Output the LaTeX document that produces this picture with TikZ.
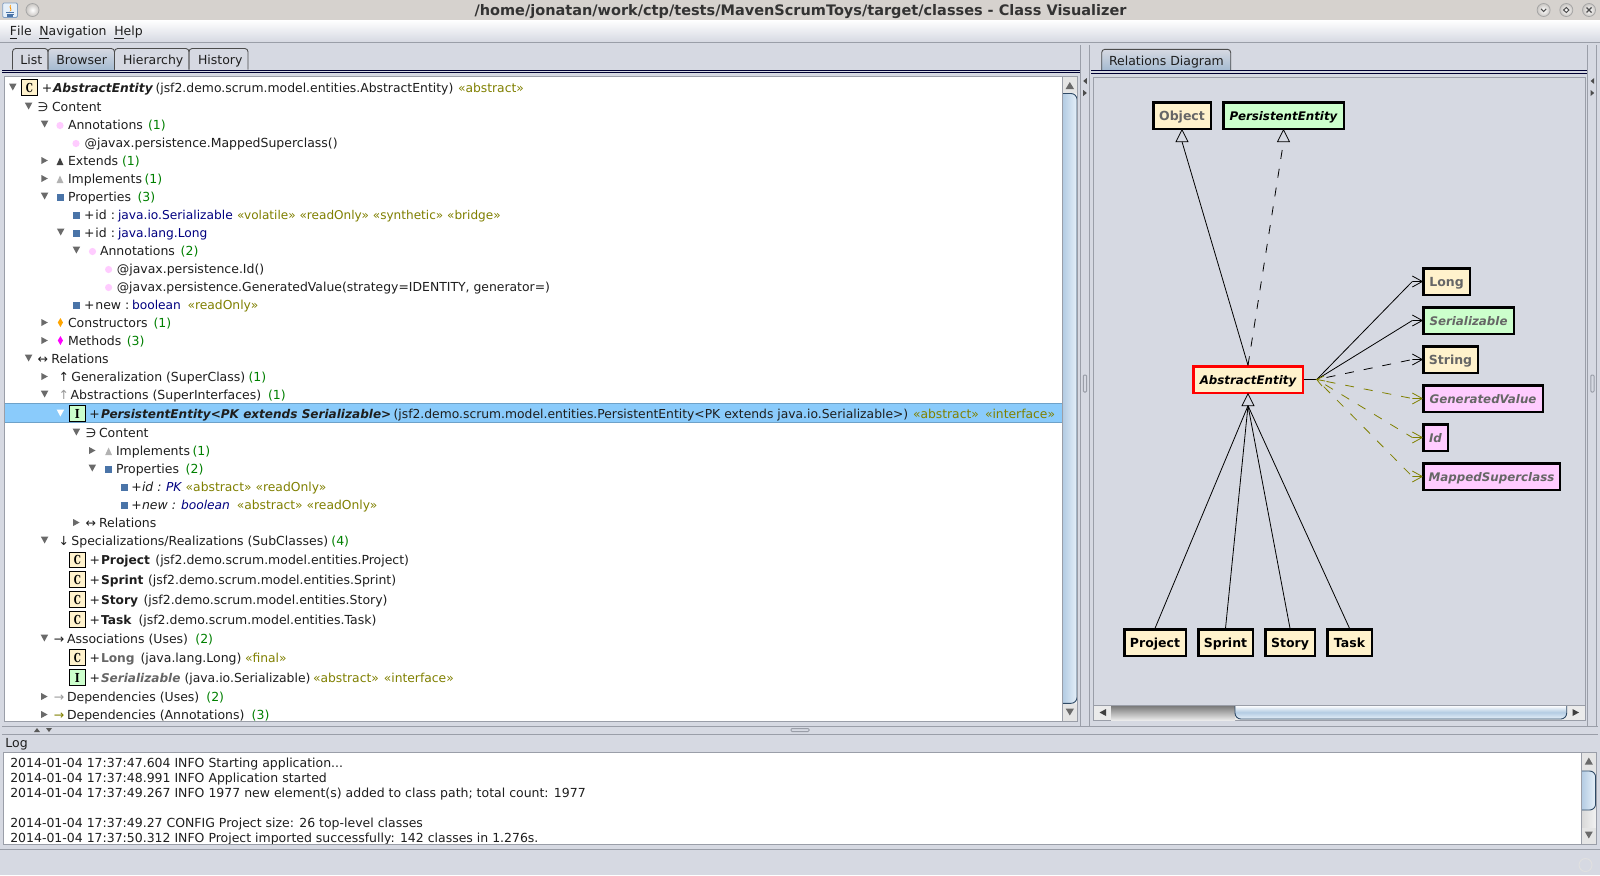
\documentclass[tikz,border=0pt]{standalone}
\usepackage{fontspec}
\usepackage{graphicx}
\setmainfont{DejaVu Sans}
\newfontfamily\iconfont{DejaVu Serif}
\usetikzlibrary{arrows.meta,calc}
\definecolor{bgc}{HTML}{D6D9E2}
\definecolor{titlec}{HTML}{D6D2CE}
\definecolor{edgec}{HTML}{9A9EA8}
\definecolor{cgreen}{HTML}{008000}
\definecolor{colive}{HTML}{808000}
\definecolor{cnavy}{HTML}{000080}
\definecolor{cream}{HTML}{FFF2CC}
\definecolor{mint}{HTML}{CCFFCC}
\definecolor{pinkc}{HTML}{FFCCFF}
\definecolor{selc}{HTML}{8ACBFB}
\definecolor{txt}{HTML}{1E1E1E}
\definecolor{graytxt}{HTML}{666666}
\definecolor{sqc}{HTML}{4A74A8}
\definecolor{expc}{HTML}{6A6A6A}
\definecolor{thumba}{HTML}{B4CCE3}
\definecolor{thumbb}{HTML}{E6F0F9}
\definecolor{thumbe}{HTML}{2F4A66}
\definecolor{tabb}{HTML}{A5BBD1}
\definecolor{cmag}{HTML}{FF00FF}
\definecolor{corg}{HTML}{FFA500}
\newcount\tnum
\newcommand{\uifont}{\fontsize{6.24}{7}\selectfont}
\newcommand{\dfont}{\fontsize{6.25}{7}\selectfont\bfseries}
\newcommand{\dfonti}{\fontsize{5.92}{7}\selectfont\bfseries\itshape}
\tikzset{
  tt/.style={anchor=base west,inner sep=0pt,outer sep=0pt,text=txt,font=\uifont},
  grn/.style={text=cgreen},
  olv/.style={text=colive,font=\fontsize{6.16}{7}\selectfont},
  nav/.style={text=cnavy,font=\fontsize{6.12}{7}\selectfont},
  gry/.style={text=graytxt},
  bitf/.style={font=\fontsize{6.12}{7}\selectfont\bfseries\itshape},
  bits/.style={font=\fontsize{6.03}{7}\selectfont\bfseries\itshape},
  bf/.style={font=\fontsize{6.12}{7}\selectfont\bfseries},
  itf/.style={font=\uifont\itshape},
  itn/.style={text=cnavy,font=\fontsize{6.12}{7}\selectfont\itshape},
  pth/.style={font=\fontsize{6.2}{7}\selectfont},
  pthl/.style={font=\fontsize{6.17}{7}\selectfont},
  olvs/.style={text=colive,font=\fontsize{6.04}{7}\selectfont},
  edgeline/.style={draw=edgec,line width=0.5pt},
  wbtn/.style={draw=gray!70,line width=0.4pt,inner color=white,outer color=titlec!85!gray},
  cbox/.style={draw=black,fill=cream,line width=0.5pt,minimum width=7.6pt,minimum height=7.6pt,inner sep=0pt,font=\iconfont\fontsize{6.2}{7}\selectfont\bfseries},
  ibox/.style={cbox,fill=mint},
  umlbox/.style={draw=black,line width=1.1pt,inner sep=0pt,text=black,font=\dfont,text height=6pt,text depth=1pt},
  conn/.style={draw=black,line width=0.4pt},
  dep/.style={draw=black,line width=0.4pt,dash pattern=on 4.5pt off 5pt,dash phase=4.5pt},
  dann/.style={draw=colive,line width=0.4pt,dash pattern=on 4.5pt off 5pt,dash phase=4.5pt},
  tabtop/.style={draw=black!70,line width=0.45pt,rounded corners=1.6pt},
  thumbl/.style={draw=thumbe,line width=0.45pt},
}
\newcommand{\tx}[4][]{\global\advance\tnum by 1\node[tt,#1] (t\the\tnum) at (#2,{#3+4.5}) {#4};}
\newcommand{\mydn}[3][expc]{\fill[#1] ({#2-3.8},{#3-3.5}) -- ({#2+3.8},{#3-3.5}) -- (#2,{#3+3.5}) -- cycle;}
\newcommand{\myrt}[2]{\fill[expc] ({#1-3.2},{#2-3.5}) -- ({#1+3.2},#2) -- ({#1-3.2},{#2+3.5}) -- cycle;}
\newcommand{\pdot}[2]{\fill[pinkc] (#1,{#2+1}) circle[radius=3.6];}
\newcommand{\icsq}[2]{\fill[sqc] ({#1-3.6},{#2-2.8}) rectangle ({#1+3.6},{#2+4.4});}
\newcommand{\ictri}[3]{\fill[#1] ({#2-3.4},{#3+4.5}) -- ({#2+3.4},{#3+4.5}) -- (#2,{#3-3}) -- cycle;}
\newcommand{\icdia}[3]{\fill[#1] ({#2},{#3-4.5}) -- ({#2+2.6},#3) -- (#2,{#3+4.5}) -- ({#2-2.6},#3) -- cycle;}
\newcommand{\clsbox}[3]{\global\advance\tnum by 1\node[cbox] (t\the\tnum) at (#1,#2) {\scalebox{0.72}[1]{#3}};}
\newcommand{\intbox}[3]{\global\advance\tnum by 1\node[ibox] (t\the\tnum) at (#1,#2) {\scalebox{0.85}[1]{#3}};}
\newcommand{\uml}[8]{\node[umlbox,fill=#1,#7,minimum width={(#4-#3-2.2)*0.5pt},minimum height={(#6-#5-2.2)*0.5pt}] (#2) at ({(#3+#4)/2},{(#5+#6)/2}) {#8};}
\newcommand{\openhead}[2]{\draw[draw=#1,line width=0.4pt] (#2.west) -- ++(-10,-5.5) (#2.west) -- ++(-10,5.5) (#2.west) -- ++(-10,0);}
\newcommand{\upgen}[1]{\draw[conn,fill=bgc] (#1.south) -- ++(-6,12) -- ++(12,0) -- cycle;}
\begin{document}
\begin{tikzpicture}[x=0.5pt,y=-0.5pt]
\useasboundingbox (0,0) rectangle (1600,875);
\fill[bgc] (0,0) rectangle (1600,875);
% title bar
\fill[titlec] (0,0) rectangle (1600,20);
\shade[top color=white,bottom color=bgc] (0,20) rectangle (1600,42);
\draw[edgeline] (0,42.5) -- (1600,42.5);
\node[tt,text=black!80,font=\fontsize{7.25}{8}\selectfont\bfseries] (title) at (474.5,15) {/home/jonatan/work/ctp/tests/MavenScrumToys/target/classes - Class Visualizer};
% java icon
\draw[draw=sqc!70,fill=thumbb,rounded corners=0.6pt,line width=0.4pt] (2.7,3) rectangle (17.5,17.5);
\fill[corg!90!red] (11,4.5) .. controls (7,8) and (13,9) .. (9.5,11.5) .. controls (14,10) and (9,8) .. (11,4.5);
\draw[sqc,line width=0.6pt] (6,12.5) -- (14,12.5) (6.5,14.3) -- (13.5,14.3) (7,16) -- (13,16);
\draw[wbtn] (32.5,10) circle[radius=6.5];
\draw[wbtn] (1543.6,10) circle[radius=6.5];
\draw[wbtn] (1566.3,10) circle[radius=6.5];
\draw[wbtn] (1589,10) circle[radius=6.5];
\draw[black!70,line width=0.5pt] (1541,8.8) -- (1543.6,11.6) -- (1546.2,8.8);
\draw[black!70,line width=0.5pt] (1566.3,7.5) -- (1569,10) -- (1566.3,12.5) -- (1563.6,10) -- cycle;
\draw[black!70,line width=0.6pt] (1586.5,7.5) -- (1591.5,12.5) (1591.5,7.5) -- (1586.5,12.5);
% menu
\tx{10}{30.7}{\underline{F}ile}
\tx{39.3}{30.7}{\underline{N}avigation}
\tx{114.3}{30.7}{\underline{H}elp}
% tabs
\shade[top color=bgc,bottom color=tabb] (48,48.5) rectangle (114,69.5);
\draw[tabtop] (12.5,69.5) |- (48,48.5) -- (48,69.5);
\draw[tabtop] (48,69.5) |- (114.5,48.5) -- (114.5,69.5);
\draw[tabtop] (114.5,69.5) |- (189,48.5) -- (189,69.5);
\draw[tabtop] (189,69.5) |- (248,48.5) -- (248,69.5);
\tx{20.4}{60.2}{List}
\tx{56.4}{60.2}{Browser}
\tx{123}{60.2}{Hierarchy}
\tx{198}{60.2}{History}
\draw[black!80!blue,line width=0.5pt] (2,70) -- (1080,70);
\draw[black!80!blue,line width=0.5pt] (2,72.8) -- (1080,72.8);
% splitters
\draw[edgeline] (1080.4,45) -- (1080.4,726) (1089,45) -- (1089,726) (1587.5,45) -- (1587.5,726) (1596.6,45) -- (1596.6,726);
\foreach \sx/\sg in {1085/1,1592.4/1}{
  \fill[black!70] ({\sx+1.8},78) -- ({\sx+1.8},84) -- ({\sx-1.8},81) -- cycle;
  \fill[black!70] ({\sx-1.8},90) -- ({\sx-1.8},96) -- ({\sx+1.8},93) -- cycle;
  \draw[edgeline,rounded corners=0.5pt] ({\sx-1.6},375) rectangle ({\sx+1.6},392);
}
% tree panel
\fill[white] (4.3,76.5) rectangle (1062,721);
\fill[selc] (5,403) rectangle (1062,422.5);
\draw[selc!80!black,line width=0.4pt] (5,403) -- (1062,403) (5,422.5) -- (1062,422.5);
% tree rows
\mydn{12.8}{87}
\clsbox{29.5}{87.5}{C}
\tx{41.8}{87.5}{+}
\tx[bitf]{53}{87.5}{AbstractEntity}
\tx[pth]{155.5}{87.5}{(jsf2.demo.scrum.model.entities.AbstractEntity)}
\tx[olv]{458}{87.5}{«abstract»}
\mydn{28.6}{106}
\tx{37.5}{106.5}{∋}
\tx{52}{106.5}{Content}
\mydn{44.6}{124}
\pdot{60}{124.5}
\tx{68}{124.5}{Annotations}
\tx[grn]{148}{124.5}{(1)}
\pdot{76}{142.5}
\tx{84.6}{142.5}{@javax.persistence.MappedSuperclass()}
\myrt{44.6}{160.5}
\ictri{black!75}{60}{160.5}
\tx{68}{160.5}{Extends}
\tx[grn]{122}{160.5}{(1)}
\myrt{44.6}{178.5}
\ictri{black!30}{60}{178.5}
\tx{68}{178.5}{Implements}
\tx[grn]{144.5}{178.5}{(1)}
\mydn{44.6}{196}
\icsq{60.4}{196.5}
\tx{68}{196.5}{Properties}
\tx[grn]{137.5}{196.5}{(3)}
\icsq{76.4}{214.5}
\tx{84}{214.5}{+}
\tx{95.4}{214.5}{id :}
\tx[nav]{118}{214.5}{java.io.Serializable}
\tx[olvs]{237}{214.5}{«volatile» «readOnly» «synthetic» «bridge»}
\mydn{60.7}{232}
\icsq{76.4}{232.5}
\tx{84}{232.5}{+}
\tx{95.4}{232.5}{id :}
\tx[nav]{118}{232.5}{java.lang.Long}
\mydn{76.4}{250}
\pdot{92.5}{250.5}
\tx{100}{250.5}{Annotations}
\tx[grn]{180.7}{250.5}{(2)}
\pdot{108.6}{268.5}
\tx{116.8}{268.5}{@javax.persistence.Id()}
\pdot{108.6}{286.5}
\tx[pth]{116.8}{286.5}{@javax.persistence.GeneratedValue(strategy=IDENTITY, generator=)}
\icsq{76.4}{305}
\tx{84}{305}{+}
\tx{95.4}{305}{new :}
\tx[nav]{132}{305}{boolean}
\tx[olv]{187.5}{305}{«readOnly»}
\myrt{44.6}{322.5}
\icdia{corg}{60.4}{322.5}
\tx{68}{322.5}{Constructors}
\tx[grn]{153.6}{322.5}{(1)}
\myrt{44.6}{340.5}
\icdia{cmag}{60.4}{340.5}
\tx{68}{340.5}{Methods}
\tx[grn]{126.8}{340.5}{(3)}
\mydn{28.6}{358}
\tx{37.5}{358.5}{↔}
\tx{51.4}{358.5}{Relations}
\myrt{44.6}{376.5}
\tx{58.5}{376.5}{↑}
\tx{71.4}{376.5}{Generalization (SuperClass)}
\tx[grn]{248.5}{376.5}{(1)}
\mydn{44.6}{394}
\tx[text=black!40]{58.5}{394.5}{↑}
\tx{70.7}{394.5}{Abstractions (SuperInterfaces)}
\tx[grn]{268}{394.5}{(1)}
\mydn[white]{60.4}{413}
\intbox{77.4}{413.5}{I}
\tx{89.3}{413.5}{+}
\tx[bits]{101}{413.5}{PersistentEntity<PK extends Serializable>}
\tx[pthl]{393.6}{413.5}{(jsf2.demo.scrum.model.entities.PersistentEntity<PK extends java.io.Serializable>)}
\tx[olv]{913}{413.5}{«abstract»}
\tx[olv]{985}{413.5}{«interface»}
\mydn{76.4}{432}
\tx{85.5}{432.5}{∋}
\tx{99}{432.5}{Content}
\myrt{92.3}{450.5}
\ictri{black!30}{108.6}{450.5}
\tx{116}{450.5}{Implements}
\tx[grn]{192.5}{450.5}{(1)}
\mydn{92.3}{468}
\icsq{108.6}{468.5}
\tx{116}{468.5}{Properties}
\tx[grn]{185.7}{468.5}{(2)}
\icsq{124.3}{486.5}
\tx{131.4}{486.5}{+}
\tx[itf]{142}{486.5}{id :}
\tx[itn]{166}{486.5}{PK}
\tx[olv]{185.7}{486.5}{«abstract» «readOnly»}
\icsq{124.3}{504.5}
\tx{131.4}{504.5}{+}
\tx[itf]{142}{504.5}{new :}
\tx[itn]{181}{504.5}{boolean}
\tx[olv]{236.8}{504.5}{«abstract» «readOnly»}
\myrt{76.4}{522.5}
\tx{85.5}{522.5}{↔}
\tx{99}{522.5}{Relations}
\mydn{44.6}{540}
\tx{58.5}{540.5}{↓}
\tx{71.4}{540.5}{Specializations/Realizations (SubClasses)}
\tx[grn]{331.4}{540.5}{(4)}
\clsbox{77.4}{560}{C}
\tx{89.5}{559.5}{+}
\tx[bf]{101}{559.5}{Project}
\tx{155.4}{559.5}{(jsf2.demo.scrum.model.entities.Project)}
\clsbox{77.4}{579.5}{C}
\tx{89.5}{579.5}{+}
\tx[bf]{101}{579.5}{Sprint}
\tx{148}{579.5}{(jsf2.demo.scrum.model.entities.Sprint)}
\clsbox{77.4}{599.5}{C}
\tx{89.5}{599.5}{+}
\tx[bf]{101}{599.5}{Story}
\tx{143.6}{599.5}{(jsf2.demo.scrum.model.entities.Story)}
\clsbox{77.4}{619.5}{C}
\tx{89.5}{619.5}{+}
\tx[bf]{101}{619.5}{Task}
\tx{138.5}{619.5}{(jsf2.demo.scrum.model.entities.Task)}
\mydn{44.4}{638}
\tx{54}{638.5}{→}
\tx{67}{638.5}{Associations (Uses)}
\tx[grn]{195.4}{638.5}{(2)}
\clsbox{77.4}{657.5}{C}
\tx{89.5}{657.5}{+}
\tx[bf,gry]{101}{657.5}{Long}
\tx{140.5}{657.5}{(java.lang.Long)}
\tx[olv]{245}{657.5}{«final»}
\intbox{77.4}{677.5}{I}
\tx{89.5}{677.5}{+}
\tx[bits,gry]{101}{677.5}{Serializable}
\tx[pth]{184.5}{677.5}{(java.io.Serializable)}
\tx[olv]{313}{677.5}{«abstract»}
\tx[olv]{383.8}{677.5}{«interface»}
\myrt{44.4}{696.5}
\tx[text=black!40]{54}{696.5}{→}
\tx{67}{696.5}{Dependencies (Uses)}
\tx[grn]{206.4}{696.5}{(2)}
\myrt{44.4}{714.5}
\tx[text=colive]{54}{714.5}{→}
\tx{67}{714.5}{Dependencies (Annotations)}
\tx[grn]{251.7}{714.5}{(3)}
% tree scrollbar
\fill[black!10] (1062,76.5) rectangle (1077.7,721);
\shade[left color=black!15,right color=black!5] (1062,93) rectangle (1077.7,703);
\fill[expc] (1069.8,82) -- (1074,89) -- (1065.6,89) -- cycle;
\fill[expc] (1069.8,715.5) -- (1074,708.5) -- (1065.6,708.5) -- cycle;
\shade[thumbl,left color=thumba,right color=thumbb,rounded corners=3pt] (1063,93.5) -- (1077,93.5) -- (1077,703.3) -- (1063,703.3);
\draw[edgeline] (4.3,76.5) rectangle (1077.7,721);
\draw[edgeline] (1062,76.5) -- (1062,721);
% relations tab
\shade[top color=bgc,bottom color=tabb] (1101.7,49.5) rectangle (1230.7,70);
\draw[tabtop] (1101.7,70) |- (1230.7,49.3) -- (1230.7,70);
\tx{1109}{60.7}{Relations Diagram}
\draw[black!80!blue,line width=0.5pt] (1091,70.5) -- (1586.7,70.5);
\draw[black!80!blue,line width=0.5pt] (1091,73) -- (1586.7,73);
% diagram frame
\draw[edgeline] (1093.3,77.3) rectangle (1585,720.7);
% UML nodes
\uml{cream}{Object}{1152.3}{1211.7}{101.3}{129.7}{text=graytxt}{Object}
\uml{mint}{PersistentEntity}{1222.3}{1344.7}{101.3}{129.7}{font=\dfonti}{PersistentEntity}
\node[umlbox,fill=cream,draw=red,font=\dfonti,minimum width={(111.4-2.2)*0.5pt},minimum height={(28.4-2.2)*0.5pt}] (AbstractEntity) at (1248,379.5) {AbstractEntity};
\uml{cream}{Long}{1422.3}{1470.7}{267.3}{295.7}{text=graytxt}{Long}
\uml{mint}{Serializable}{1422.3}{1514.7}{306.3}{334.7}{text=graytxt,font=\dfonti}{Serializable}
\uml{cream}{String}{1422.3}{1478.7}{345.3}{373.7}{text=graytxt}{String}
\uml{pinkc}{GeneratedValue}{1422.3}{1543.7}{384.3}{412.7}{text=graytxt,font=\dfonti}{GeneratedValue}
\uml{pinkc}{Id}{1422.3}{1448.7}{423.3}{451.7}{text=graytxt,font=\dfonti}{Id}
\uml{pinkc}{MappedSuperclass}{1422.3}{1560.7}{462.3}{490.7}{text=graytxt,font=\dfonti}{MappedSuperclass}
\uml{cream}{Project}{1123.3}{1186.7}{628.3}{656.7}{}{Project}
\uml{cream}{Sprint}{1197.3}{1253.7}{628.3}{656.7}{}{Sprint}
\uml{cream}{Story}{1264.3}{1315.7}{628.3}{656.7}{}{Story}
\uml{cream}{Task}{1326.3}{1372.7}{628.3}{656.7}{}{Task}
\coordinate (jn) at (1316.7,379.5);
% connectors
\draw[conn] (AbstractEntity.north) -- ([yshift=-6pt]Object.south);
\upgen{Object}
\draw[conn,dash pattern=on 4.5pt off 5pt] (AbstractEntity.north) -- ([yshift=-6pt]PersistentEntity.south);
\upgen{PersistentEntity}
\upgen{AbstractEntity}
\draw[conn] ([yshift=-6pt]AbstractEntity.south) -- (Project.north);
\draw[conn] ([yshift=-6pt]AbstractEntity.south) -- (Sprint.north);
\draw[conn] ([yshift=-6pt]AbstractEntity.south) -- (Story.north);
\draw[conn] ([yshift=-6pt]AbstractEntity.south) -- (Task.north);
\draw[conn] (AbstractEntity.east) -- (jn);
\draw[conn] (jn) -- ([xshift=-5pt]Long.west);
\draw[conn] (jn) -- ([xshift=-5pt]Serializable.west);
\draw[dep] (jn) -- ([xshift=-5pt]String.west);
\draw[dann] (jn) -- ([xshift=-5pt]GeneratedValue.west);
\draw[dann] (jn) -- ([xshift=-5pt]Id.west);
\draw[dann] (jn) -- ([xshift=-5pt]MappedSuperclass.west);
\openhead{black}{Long}
\openhead{black}{Serializable}
\openhead{black}{String}
\openhead{colive}{GeneratedValue}
\openhead{colive}{Id}
\openhead{colive}{MappedSuperclass}
\draw[colive,line width=0.4pt] (1324,376) -- (jn) -- (1325,381) (jn) -- (1322,386);
% diagram hscroll
\fill[black!8] (1094,705) rectangle (1584.5,720);
\shade[top color=black!55,bottom color=black!8] (1111,705) rectangle (1235,720);
\fill[black!75] (1106,709) -- (1106,716) -- (1099.5,712.5) -- cycle;
\fill[black!75] (1572.5,709) -- (1572.5,716) -- (1579,712.5) -- cycle;
\shade[thumbl,top color=white,bottom color=thumbb,middle color=thumba,rounded corners=3pt] (1235,705.5) -- (1235,719) -- (1566.7,719) -- (1566.7,705.5);
\draw[edgeline] (1093.3,705) -- (1585,705);
% horizontal splitter
\draw[edgeline] (2,726) -- (1598,726);
\draw[edgeline] (2,734.2) -- (1598,734.2);
\fill[black!65] (37,728) -- (40,732) -- (34,732) -- cycle;
\fill[black!65] (46,728) -- (52,728) -- (49,732) -- cycle;
\draw[edgeline,rounded corners=0.5pt] (791,728.5) rectangle (809,731.5);
% log
\tx{5.4}{743}{Log}
\fill[white] (3.4,752.7) rectangle (1596,844);
\tx{10.3}{762.7}{2014-01-04 17:37:47.604 INFO Starting application...}
\tx{10.3}{777.7}{2014-01-04 17:37:48.991 INFO Application started}
\tx{10.3}{792.7}{2014-01-04 17:37:49.267 INFO 1977 new element(s) added to class path; total count: 1977}
\tx{10.3}{822.7}{2014-01-04 17:37:49.27 CONFIG Project size: 26 top-level classes}
\tx{10.3}{837.7}{2014-01-04 17:37:50.312 INFO Project imported successfully: 142 classes in 1.276s.}
\fill[black!10] (1581.7,752.7) rectangle (1596,844);
\shade[left color=black!15,right color=black!5] (1581.7,810) rectangle (1596,827);
\fill[expc] (1588.8,757.5) -- (1592.8,764.5) -- (1584.8,764.5) -- cycle;
\fill[expc] (1588.8,838.5) -- (1592.8,831.5) -- (1584.8,831.5) -- cycle;
\shade[thumbl,left color=thumba,right color=thumbb,rounded corners=3pt] (1581.7,771) -- (1595.6,771) -- (1595.6,810) -- (1581.7,810);
\draw[edgeline] (3.4,752.7) rectangle (1596,844);
\draw[edgeline] (1581.7,752.7) -- (1581.7,844);
\draw[edgeline] (0,849.3) -- (1600,849.3);
\draw[black!12,line width=0.5pt] (1585.5,865) circle[radius=6.5];
\end{tikzpicture}
\end{document}
